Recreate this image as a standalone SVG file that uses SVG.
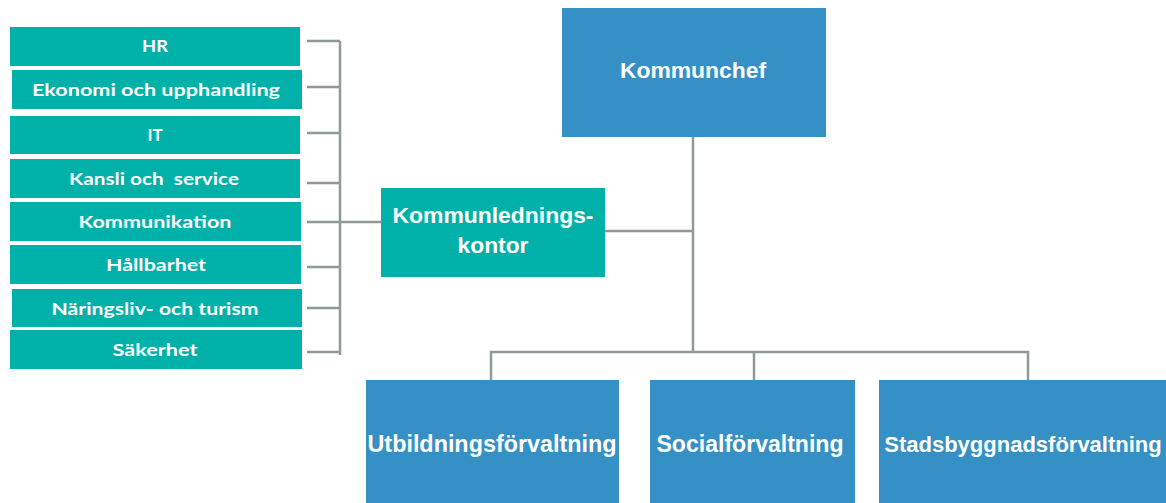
<svg xmlns="http://www.w3.org/2000/svg" width="1166" height="503" viewBox="0 0 1166 503">
<style>
.teal{fill:#00b1a9}
.blue{fill:#3590c5}
.lt{font-family:Lato,"Open Sans",sans-serif;font-weight:bold;font-size:17px;fill:#ffffff;text-anchor:middle}
.bt{font-family:"Liberation Sans",Arial,sans-serif;font-weight:bold;font-size:22px;fill:#ffffff;text-anchor:middle}
.bb{font-size:23px}
.ln{stroke:#8e9a94;stroke-width:2.5;fill:none}
</style>
<rect width="1166" height="503" fill="#ffffff"/>
<g id="connectors">
<path class="ln" d="M340 41V355"/>
<path class="ln" d="M307 41H340M307 87H340M307 133H340M307 183H340M307 222H381M307 267H340M307 308H340M307 352H340"/>
<path class="ln" d="M693 137V352M605 231H693"/>
<path class="ln" d="M491 380V352H1028V380M754 352V380"/>
</g>
<g id="hr"><rect class="teal" x="10" y="27" width="290" height="39"/><text class="lt" x="155" y="52" textLength="26" lengthAdjust="spacingAndGlyphs">HR</text></g>
<g id="ekonomi"><rect class="teal" x="12" y="70" width="290" height="39"/><text class="lt" x="156" y="96" textLength="248" lengthAdjust="spacingAndGlyphs">Ekonomi och upphandling</text></g>
<g id="it"><rect class="teal" x="10" y="116" width="290" height="38"/><text class="lt" x="155" y="141">IT</text></g>
<g id="kansli"><rect class="teal" x="10" y="159" width="290" height="39"/><text class="lt" x="154" y="185" textLength="170" lengthAdjust="spacingAndGlyphs" xml:space="preserve">Kansli och  service</text></g>
<g id="kommunikation"><rect class="teal" x="10" y="202" width="291" height="39"/><text class="lt" x="155" y="228" textLength="153" lengthAdjust="spacingAndGlyphs">Kommunikation</text></g>
<g id="hallbarhet"><rect class="teal" x="10" y="245" width="291" height="39"/><text class="lt" x="156" y="271" textLength="100" lengthAdjust="spacingAndGlyphs">Hållbarhet</text></g>
<g id="naringsliv"><rect class="teal" x="12" y="289" width="290" height="38"/><text class="lt" x="155" y="315" textLength="207" lengthAdjust="spacingAndGlyphs">Näringsliv- och turism</text></g>
<g id="sakerhet"><rect class="teal" x="10" y="330" width="292" height="39"/><text class="lt" x="155" y="356" textLength="85" lengthAdjust="spacingAndGlyphs">Säkerhet</text></g>
<g id="kommunledningskontor"><rect class="teal" x="381" y="188" width="224" height="89"/><text class="bt" x="493" y="223" textLength="201" lengthAdjust="spacingAndGlyphs">Kommunlednings-</text><text class="bt" x="493" y="253" textLength="71" lengthAdjust="spacingAndGlyphs">kontor</text></g>
<g id="kommunchef"><rect class="blue" x="562" y="8" width="264" height="129"/><text class="bt" x="693" y="78" textLength="146" lengthAdjust="spacingAndGlyphs">Kommunchef</text></g>
<g id="utbildning"><rect class="blue" x="366" y="380" width="253" height="123"/><text class="bt bb" x="492" y="452" textLength="249" lengthAdjust="spacingAndGlyphs">Utbildningsförvaltning</text></g>
<g id="social"><rect class="blue" x="650" y="380" width="205" height="123"/><text class="bt bb" x="750" y="452" textLength="187" lengthAdjust="spacingAndGlyphs">Socialförvaltning</text></g>
<g id="stadsbyggnad"><rect class="blue" x="879" y="380" width="287" height="123"/><text class="bt" x="1023" y="452">Stadsbyggnadsförvaltning</text></g>
</svg>
